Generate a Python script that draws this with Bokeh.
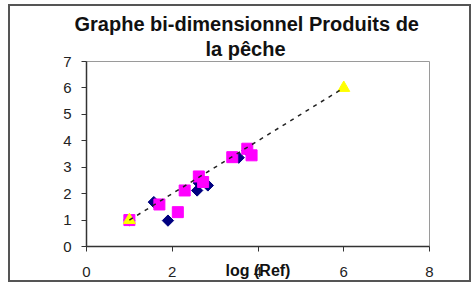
from bokeh.plotting import figure
from bokeh.models import Range1d, FixedTicker, ColumnDataSource, Title
from bokeh.embed import file_html
from bokeh.resources import INLINE
import math

# ---- data ----
title_lines = ["Graphe bi-dimensionnel Produits de", "la pêche"]
x_label = "log (Ref)"
x_ticks = [0, 2, 4, 6, 8]
y_ticks = [0, 1, 2, 3, 4, 5, 6, 7]

blue_x = [1.0, 1.57, 1.90, 2.58, 2.62, 2.83, 3.55, 3.75]
blue_y = [1.0, 1.68, 0.98, 2.12, 2.40, 2.31, 3.36, 3.62]

pink_x = [1.0, 1.70, 2.13, 2.29, 2.62, 2.72, 3.40, 3.75, 3.85]
pink_y = [1.0, 1.59, 1.30, 2.12, 2.65, 2.44, 3.38, 3.70, 3.45]

yellow_x = [1.0, 6.0]
yellow_y = [1.0, 6.0]

FONT = "Liberation Sans"

p = figure(width=463, height=278, output_backend="svg", toolbar_location=None,
           x_range=Range1d(0, 8), y_range=Range1d(0, 7),
           min_border_left=76, min_border_right=44, min_border_top=55, min_border_bottom=38)
p.styles = {"border": "2px solid #555555", "margin-left": "8px", "margin-top": "4px"}

# title: first line is the figure's own title, the second line sits nearest the frame
p.title.text = title_lines[0]
p.title.align = "left"
p.title.offset = -12
p.title.standoff = -3
p.title.text_font = FONT
p.title.text_font_style = "bold"
p.title.text_font_size = "20px"
p.title.text_color = "#111111"
p.add_layout(Title(text=title_lines[1], align="left", offset=119, standoff=4,
                   text_font=FONT, text_font_style="bold", text_font_size="20px",
                   text_color="#111111"), "above")

p.xgrid.visible = False
p.ygrid.visible = False
p.outline_line_color = "#9a9a9a"
p.outline_line_width = 1

for ax, ticks in ((p.xaxis, x_ticks), (p.yaxis, y_ticks)):
    ax.ticker = FixedTicker(ticks=ticks)
    ax.axis_line_color = "#333333"
    ax.axis_line_width = 1.5
    ax.major_tick_line_color = "#333333"
    ax.major_tick_out = 5
    ax.major_tick_in = 0
    ax.minor_tick_line_color = None
    ax.major_label_text_font = FONT
    ax.major_label_text_font_size = "15px"
    ax.major_label_text_color = "#222222"
p.xaxis.major_label_standoff = 15
p.yaxis.major_label_standoff = 10

p.xaxis.axis_label = x_label
p.xaxis.axis_label_text_font = FONT
p.xaxis.axis_label_text_font_style = "bold"
p.xaxis.axis_label_text_font_size = "16px"
p.xaxis.axis_label_text_color = "#111111"
p.xaxis.axis_label_standoff = -18

blue = ColumnDataSource(dict(x=blue_x, y=blue_y))
pink = ColumnDataSource(dict(x=pink_x, y=pink_y))
yellow = ColumnDataSource(dict(x=yellow_x, y=yellow_y))

p.scatter("x", "y", source=blue, marker="square", angle=math.pi / 4, size=8,
          fill_color="#000080", line_color="#000080")
p.scatter("x", "y", source=pink, marker="square", size=11,
          fill_color="#FF00FF", line_color="#FF00FF")
p.scatter("x", "y", source=yellow, marker="triangle", size=12,
          fill_color="#FFFF00", line_color="#FFFF00")
p.line("x", "y", source=yellow, line_color="#222222", line_width=1.5, line_dash="4 5")

open("out.html", "w").write(file_html(p, INLINE))
